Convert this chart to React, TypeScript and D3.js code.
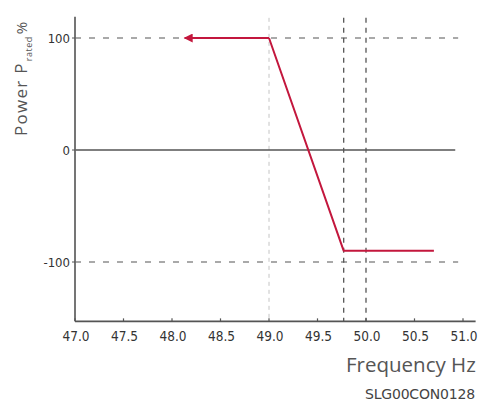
import React from "react";
import * as d3 from "d3";

const xTicks = [47.0, 47.5, 48.0, 48.5, 49.0, 49.5, 50.0, 50.5, 51.0];
const yTicks = [100, 0, -100];
const curveFreq = [49.0, 49.77, 50.7];
const curvePower = [100, -90, -90];
const arrowFreq = [49.0, 48.13];
const arrowPower = [100, 100];
const vGuideFreq = [49.77, 50.0];
const lightGuideFreq = [49.0];
const hGuidePower = [100, -100];

export default function App() {
  const W = 480, H = 405;
  const x = d3.scaleLinear().domain([47, 51]).range([75, 463]);
  const y = d3.scaleLinear().domain([-100, 100]).range([262, 38]);
  const yTop = y(119);
  const yBot = y(-153);
  const red = "#c3173d";
  const line = d3.line<number>().x((_, i) => x(curveFreq[i])).y((d) => y(d));
  const arrowLine = d3.line<number>().x((_, i) => x(arrowFreq[i])).y((d) => y(d));
  const font = "'DejaVu Sans Condensed', 'DejaVu Sans', sans-serif";

  return (
    <svg width={W} height={H} style={{ position: "absolute", left: 0, top: 0, background: "#fff" }}>
      <defs>
        <marker id="ah" viewBox="0 0 10 10" refX="9" refY="5" markerWidth="5" markerHeight="4.5" orient="auto-start-reverse" markerUnits="strokeWidth">
          <path d="M0,0 L10,5 L0,10 z" fill={red} />
        </marker>
      </defs>
      {lightGuideFreq.map((f) => (
        <line key={"lg" + f} x1={x(f)} x2={x(f)} y1={y(118)} y2={yBot} stroke="#c4c4c4" strokeWidth={1} strokeDasharray="4,4" />
      ))}
      {vGuideFreq.map((f) => (
        <line key={"vg" + f} x1={x(f)} x2={x(f)} y1={y(118)} y2={yBot} stroke="#555" strokeWidth={1.3} strokeDasharray="5,5" />
      ))}
      {hGuidePower.map((p) => (
        <line key={"hg" + p} x1={x(47)} x2={x(50.95)} y1={y(p)} y2={y(p)} stroke="#555" strokeWidth={1.2} strokeDasharray="6,8" />
      ))}
      <line x1={x(47)} x2={x(50.92)} y1={y(0)} y2={y(0)} stroke="#555" strokeWidth={1.5} />
      <line x1={x(47)} x2={x(47)} y1={yTop} y2={yBot} stroke="#666" strokeWidth={1.8} />
      <line x1={x(47)} x2={x(51.13)} y1={yBot} y2={yBot} stroke="#555" strokeWidth={1.8} />
      {xTicks.map((t) => (
        <g key={"xt" + t}>
          <line x1={x(t)} x2={x(t)} y1={yBot} y2={yBot - 3} stroke="#555" strokeWidth={1.2} />
          <text x={x(t) + 1} y={yBot + 20} textAnchor="middle" fontSize={13.5} fill="#333" fontFamily={font}>
            {t.toFixed(1)}
          </text>
        </g>
      ))}
      {yTicks.map((t) => (
        <g key={"yt" + t}>
          <line x1={x(47) - 3} x2={x(47)} y1={y(t)} y2={y(t)} stroke="#555" strokeWidth={1} />
          <text x={x(47) - 5} y={y(t) + 4.5} textAnchor="end" fontSize={13} fill="#333" fontFamily={font}>
            {t}
          </text>
        </g>
      ))}
      <path d={line(curvePower) || ""} fill="none" stroke={red} strokeWidth={2} strokeLinejoin="round" />
      <path d={arrowLine(arrowPower) || ""} fill="none" stroke={red} strokeWidth={2} markerEnd="url(#ah)" />
      <text transform="translate(27,136) rotate(-90)" fontSize={17} fill="#555" fontFamily="'Open Sans', 'DejaVu Sans', sans-serif" letterSpacing={1.3}>
        Power P
        <tspan fontSize={9} dy={5} dx={1} letterSpacing={0.5}>rated</tspan>
        <tspan fontSize={15} dy={-5} dx={2} letterSpacing={0}>%</tspan>
      </text>
      <text x={346} y={372} fontSize={20.5} fill="#555" fontFamily="'Open Sans', 'DejaVu Sans', sans-serif">
        Frequency Hz
      </text>
      <text x={365} y={399} fontSize={14} fill="#444" fontFamily="'DejaVu Sans', sans-serif" letterSpacing={-0.2}>
        SLG00CON0128
      </text>
    </svg>
  );
}
